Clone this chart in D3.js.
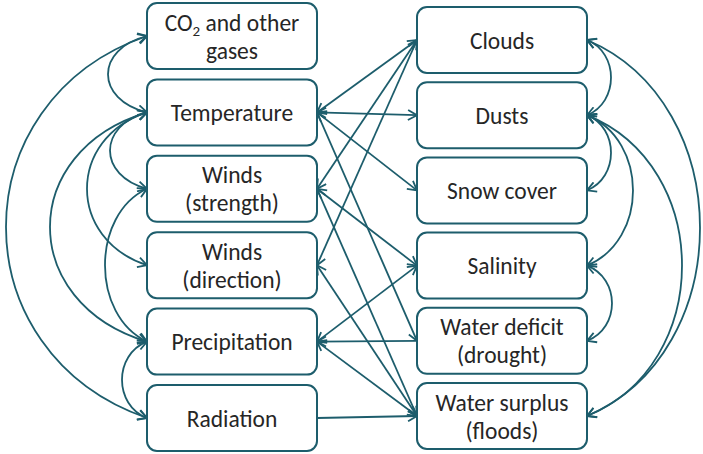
<!DOCTYPE html>
<html>
<head>
<meta charset="utf-8">
<script src="https://cdn.jsdelivr.net/npm/d3@7"></script>
<style>
  html, body { margin: 0; padding: 0; background: #ffffff; }
  svg { display: block; }
</style>
</head>
<body>
<svg id="chart" width="703" height="454"></svg>
<script>
// ---------------- DATA ----------------
const leftNodes = ["CO_2 and other|gases", "Temperature", "Winds|(strength)", "Winds|(direction)", "Precipitation", "Radiation"];
const rightNodes = ["Clouds", "Dusts", "Snow cover", "Salinity", "Water deficit|(drought)", "Water surplus|(floods)"];

// straight links between the two columns: [left node, right node, arrowheads]
const straightLinks = [
  ["Temperature", "Clouds", "both"],
  ["Temperature", "Dusts", "both"],
  ["Temperature", "Snow cover", "both"],
  ["Temperature", "Water deficit|(drought)", "both"],
  ["Winds|(strength)", "Clouds", "both"],
  ["Winds|(direction)", "Clouds", "both"],
  ["Winds|(strength)", "Salinity", "both"],
  ["Winds|(strength)", "Water surplus|(floods)", "both"],
  ["Winds|(direction)", "Water surplus|(floods)", "both"],
  ["Precipitation", "Salinity", "both"],
  ["Precipitation", "Water deficit|(drought)", "start"],
  ["Precipitation", "Water surplus|(floods)", "both"],
  ["Radiation", "Water surplus|(floods)", "end"]
];

// curved links within a column
const leftCurves = [
  ["CO_2 and other|gases", "Temperature"],
  ["CO_2 and other|gases", "Radiation"],
  ["Temperature", "Winds|(strength)"],
  ["Temperature", "Winds|(direction)"],
  ["Temperature", "Precipitation"],
  ["Winds|(strength)", "Precipitation"],
  ["Precipitation", "Radiation"]
];
const rightCurves = [
  ["Clouds", "Dusts"],
  ["Clouds", "Water surplus|(floods)"],
  ["Dusts", "Snow cover"],
  ["Dusts", "Salinity"],
  ["Dusts", "Water surplus|(floods)"],
  ["Salinity", "Water deficit|(drought)"]
];

// ---------------- LAYOUT ----------------
const leftCurveDepth = [39, 141, 37, 60, 97, 42, 25];
const rightCurveDepth = [24, 113, 24, 46, 95, 25];

const color = "#1d5d6c";
const boxW = 170, boxH = 66;

const xCol = d3.scalePoint().domain(["left", "right"]).range([147, 417]);
const yLeft = d3.scalePoint().domain(leftNodes).range([36, 418]);
const yRight = d3.scalePoint().domain(rightNodes).range([40, 416]);

const svg = d3.select("#chart");

const defs = svg.append("defs");
defs.append("marker")
  .attr("id", "arrow")
  .attr("viewBox", "0 0 12 12")
  .attr("markerUnits", "userSpaceOnUse")
  .attr("markerWidth", 12).attr("markerHeight", 12)
  .attr("refX", 10).attr("refY", 6)
  .attr("orient", "auto-start-reverse")
  .append("path")
  .attr("d", "M1,1 L10,6 L1,11")
  .attr("fill", "none")
  .attr("stroke", color)
  .attr("stroke-width", 1.8)
  .attr("stroke-linejoin", "miter");

const linkG = svg.append("g").attr("fill", "none").attr("stroke", color).attr("stroke-width", 1.8);

// straight links
linkG.selectAll("line.s").data(straightLinks).join("line")
  .attr("class", "s")
  .attr("x1", xCol("left") + boxW)
  .attr("y1", d => yLeft(d[0]))
  .attr("x2", xCol("right"))
  .attr("y2", d => yRight(d[1]))
  .attr("marker-start", d => (d[2] === "both" || d[2] === "start") ? "url(#arrow)" : null)
  .attr("marker-end", d => (d[2] === "both" || d[2] === "end") ? "url(#arrow)" : null);

function curvePath(x, y0, y1, depth, sign) {
  const span = y1 - y0;
  const c = x + sign * depth * 4 / 3;
  const dv = span * 0.17;
  const p = d3.path();
  p.moveTo(x, y0);
  p.bezierCurveTo(c, y0 + dv, c, y1 - dv, x, y1);
  return p.toString();
}

linkG.selectAll("path.lc").data(leftCurves).join("path")
  .attr("class", "lc")
  .attr("d", (d, i) => curvePath(xCol("left"), yLeft(d[0]), yLeft(d[1]), leftCurveDepth[i], -1))
  .attr("marker-start", "url(#arrow)")
  .attr("marker-end", "url(#arrow)");

linkG.selectAll("path.rc").data(rightCurves).join("path")
  .attr("class", "rc")
  .attr("d", (d, i) => curvePath(xCol("right") + boxW, yRight(d[0]), yRight(d[1]), rightCurveDepth[i], 1))
  .attr("marker-start", "url(#arrow)")
  .attr("marker-end", "url(#arrow)");

// boxes
function drawColumn(nodes, x, yScale) {
  const g = svg.append("g").selectAll("g").data(nodes).join("g")
    .attr("transform", d => `translate(${x},${yScale(d) - boxH / 2})`);
  g.append("rect")
    .attr("width", boxW).attr("height", boxH)
    .attr("rx", 10).attr("ry", 10)
    .attr("fill", "#ffffff")
    .attr("stroke", color)
    .attr("stroke-width", 2);
  g.each(function(d) {
    const lines = d.split("|");
    const t = d3.select(this).append("text")
      .attr("text-anchor", "middle")
      .attr("font-family", "Carlito, Lato, 'Open Sans', sans-serif")
      .attr("font-size", 23.5)
      .attr("fill", "#262626");
    lines.forEach((ln, k) => {
      const yy = boxH / 2 + (k - (lines.length - 1) / 2) * 28 + 8.5;
      const parts = ln.split("_");
      if (parts.length === 1) {
        t.append("tspan").attr("x", boxW / 2).attr("y", yy).text(ln);
      } else {
        t.append("tspan").attr("x", boxW / 2).attr("y", yy).text(parts[0]);
        t.append("tspan").attr("font-size", 15).attr("dy", 5).text(parts[1][0]);
        t.append("tspan").attr("dy", -5).text(parts[1].slice(1));
      }
    });
  });
}
drawColumn(leftNodes, xCol("left"), yLeft);
drawColumn(rightNodes, xCol("right"), yRight);
</script>
</body>
</html>
